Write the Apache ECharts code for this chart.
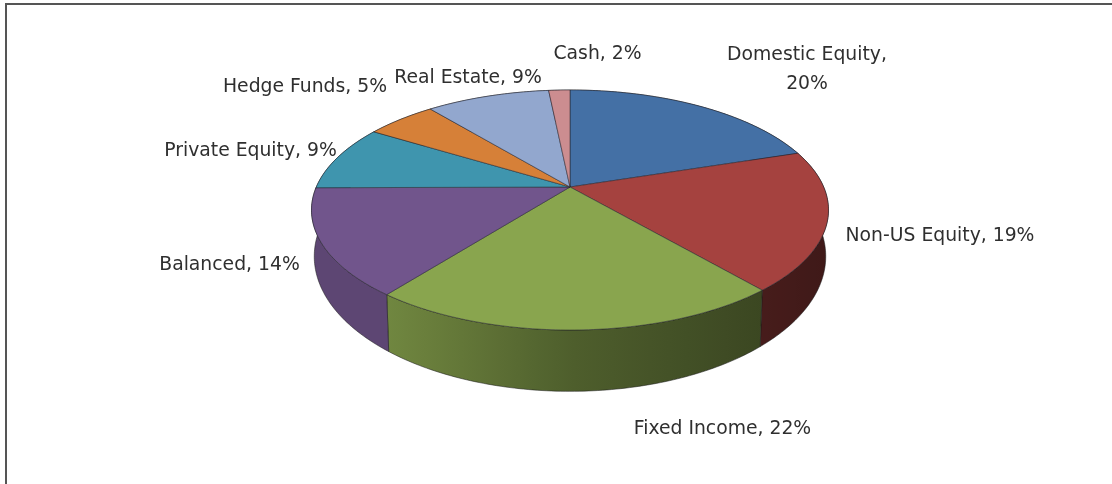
<!DOCTYPE html>
<html><head><meta charset="utf-8">
<style>html,body{margin:0;padding:0;background:#fff}#c{width:1112px;height:484px}</style>
<script src="https://cdn.jsdelivr.net/npm/echarts@6/dist/echarts.min.js"></script>
</head><body><div id="c"></div>
<script>
const categories = ['Domestic Equity','Non-US Equity','Fixed Income','Balanced','Private Equity','Hedge Funds','Real Estate','Cash'];
const shares = [20, 18.8, 21.7, 14.4, 8.9, 5.3, 9.3, 1.6];
const labelBreak = [true,false,false,false,false,false,false,false];
const colors = ['#4470A5','#A5423F','#89A54E','#71558C','#3F95AE','#D68038','#92A7CE','#CC8D90'];
const labelCentres = [[807,69.5],[940,236],[722.5,429],[229.5,265],[250.5,151],[305,87],[468,78],[597.5,54]];

const cx=570, cy=187, A=253.7, B=115.6, K=0.1917;
const total = shares.reduce((a,b)=>a+b,0);
function topPt(t){const u=Math.sin(t),v=Math.cos(t),w=1+K*v;return [cx+A*u/w, cy-B*v/w];}
function botPt(t){const u=Math.sin(t),v=Math.cos(t),w=1+K*v;return [cx+251*u/w, 230.5-130*v/w];}
function shade(x){ // wall lighting from left (bright) to right (dark)
  const p=(x-312)/517;
  return p<0.15?0.82:p<0.5?0.82-(p-0.15)/0.35*0.25:0.57-(p-0.5)/0.5*0.19;
}
function mix(hex,f){const n=parseInt(hex.slice(1),16);
  return 'rgb('+[(n>>16)&255,(n>>8)&255,n&255].map(c=>Math.round(c*f)).join(',')+')';}
const arc=(a,b,fn)=>{const n=Math.max(4,Math.ceil((b-a)/0.015)),o=[];for(let i=0;i<=n;i++)o.push(fn(a+(b-a)*i/n));return o;};

function renderItem(params,api){
  const i=params.dataIndex, val=api.value(1);
  let before=0; for(let k=0;k<i;k++) before+=shares[k];
  const a=before/total*2*Math.PI, b=(before+val)/total*2*Math.PI;
  const children=[];
  const tops=arc(a,b,topPt), bots=arc(a,b,botPt);
  const xs=tops.concat(bots).map(p=>p[0]);
  const x0=Math.min(...xs), x1=Math.max(...xs), stops=[];
  for(let s=0;s<=10;s++) stops.push({offset:s/10,color:mix(colors[i],shade(x0+(x1-x0)*s/10))});
  children.push({type:'polygon',z2:10+i,shape:{points:tops.concat(bots.slice().reverse())},
    style:{fill:{type:'linear',x:0,y:0,x2:1,y2:0,colorStops:stops},stroke:'rgba(25,25,25,0.75)',lineWidth:0.7}});
  children.push({type:'polygon',z2:30+i,shape:{points:[[cx,cy]].concat(tops)},
    style:{fill:colors[i],stroke:'rgba(35,35,45,0.75)',lineWidth:0.7}});
  const c=labelCentres[i];
  children.push({type:'text',z2:60,style:{
    text:categories[i]+','+(labelBreak[i]?'\n':' ')+Math.round(val)+'%',
    x:c[0],y:c[1],align:'center',verticalAlign:'middle',lineHeight:29,
    fontFamily:'"DejaVu Sans"',fontSize:18.8,fill:'#2f2f2f'}});
  return {type:'group',children};
}
const chart=echarts.init(document.getElementById('c'),null,{renderer:'canvas'});
chart.setOption({animation:false,backgroundColor:'#fff',
  graphic:[
    {type:'line',shape:{x1:6,y1:4,x2:1112,y2:4},style:{stroke:'#555',lineWidth:2}},
    {type:'line',shape:{x1:6,y1:3,x2:6,y2:484},style:{stroke:'#555',lineWidth:2}}
  ],
  series:[{type:'custom',coordinateSystem:'none',renderItem,clip:false,
    data:categories.map((n,i)=>({name:n,value:[i,shares[i]]}))}]
});
</script></body></html>
